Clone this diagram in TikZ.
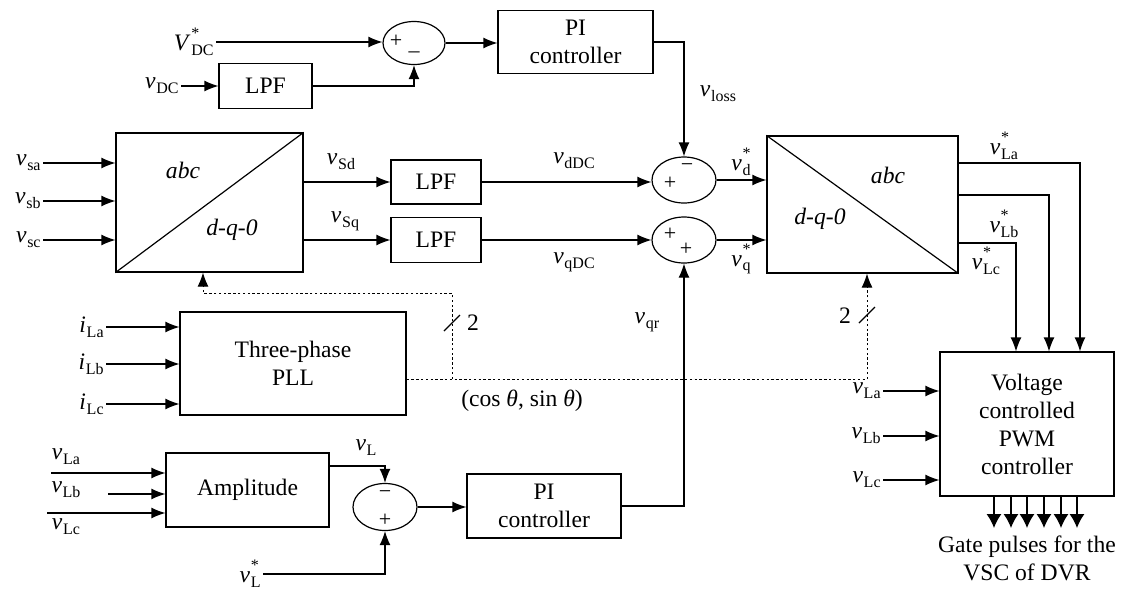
\documentclass[tikz,border=0pt]{standalone}
\usepackage{fontspec}
\setmainfont{Liberation Serif}
\usetikzlibrary{arrows.meta,shapes.geometric}
\newcommand{\sv}[2]{\textit{#1}\kern0.03em\raisebox{-0.45ex}{\footnotesize #2}}
\newcommand{\ssv}[2]{\textit{#1}\kern0.03em\rlap{\raisebox{1.1ex}{\footnotesize *}}\raisebox{-0.45ex}{\footnotesize #2}}
\begin{document}
\begin{tikzpicture}[x=0.5pt,y=-0.5pt,
  every node/.style={font=\fontsize{11.8}{14}\selectfont},
  blk/.style={draw, line width=0.6pt, inner sep=0pt, align=center},
  sumj/.style={draw, ellipse, line width=0.6pt, inner sep=0pt, minimum width=32pt, minimum height=23pt},
  arr/.style={line width=0.6pt, -{Latex[length=7pt,width=5.5pt]}},
  garr/.style={line width=0.6pt, -{Latex[length=7pt,width=7.5pt]}},
  ln/.style={line width=0.6pt},
  dl/.style={line width=0.5pt, dash pattern=on 1.2pt off 1.2pt},
  dlarr/.style={dl, -{Latex[length=7pt,width=5.5pt]}},
  lbl/.style={inner sep=1pt},
  sg/.style={inner sep=0pt, font=\fontsize{11}{12}\selectfont}
]
\useasboundingbox (0,0) rectangle (1121,590);
\fill[white] (0,0) rectangle (1121,590);

% ---------- top DC loop ----------
\node[lbl, anchor=east] (Vdcs) at (216,42) {\ssv{V}{DC}};
\node[sumj, minimum width=31pt, minimum height=21.5pt] (S1) at (414,43) {};
\node[sg] (s1p) at (396,41) {+};
\node[sg] (s1m) at (414,55) {–};
\node[blk, minimum width=46.5pt, minimum height=22.5pt] (LPF1) at (265.5,86) {LPF};
\node[lbl, anchor=east] (vdc) at (181,86) {\sv{v}{DC}};
\node[blk, minimum width=77.5pt, minimum height=31.5pt] (PI1) at (575.5,42) {PI\\controller};
\draw[arr] (Vdcs.east) -- (Vdcs.east -| S1.west);
\draw[arr] (vdc.east) -- (LPF1.west);
\draw[arr] (LPF1.east) -| (S1.south);
\draw[arr] (S1.east) -- (S1.east -| PI1.west);

% ---------- abc -> dq0 ----------
\node[blk, minimum width=93.5pt, minimum height=69.5pt] (ABC1) at (209.5,202.5) {};
\draw[ln] (ABC1.south west) -- (ABC1.north east);
\node (abc1) at (183,170) {\textit{abc}};
\node (dq1) at (232,230) {\textit{d-q-0}};
\node[lbl, anchor=east] (vsa) at (43,163) {\sv{v}{sa}};
\node[lbl, anchor=east] (vsb) at (43,201) {\sv{v}{sb}};
\node[lbl, anchor=east] (vsc) at (43,240) {\sv{v}{sc}};
\draw[arr] (vsa.east) -- (vsa.east -| ABC1.west);
\draw[arr] (vsb.east) -- (vsb.east -| ABC1.west);
\draw[arr] (vsc.east) -- (vsc.east -| ABC1.west);

\node[blk, minimum width=45pt, minimum height=22pt] (LPF2) at (436,182) {LPF};
\node[blk, minimum width=45pt, minimum height=22.5pt] (LPF3) at (436,240) {LPF};
\draw[arr] (ABC1.east |- LPF2.west) -- (LPF2.west);
\draw[arr] (ABC1.east |- LPF3.west) -- (LPF3.west);
\node (vSd) at (341,162) {\sv{v}{Sd}};
\node (vSq) at (345,221) {\sv{v}{Sq}};

\node[sumj] (S2) at (684,180) {};
\node[sumj] (S3) at (684,240) {};
\node[sg] (s2p) at (670,183) {+};
\node[sg] (s2m) at (687,168) {−};
\node[sg] (s3p1) at (670,234) {+};
\node[sg] (s3p2) at (686,249) {+};
\draw[arr] (LPF2.east) -- (LPF2.east -| S2.west);
\draw[arr] (LPF3.east) -- (LPF3.east -| S3.west);
\node (vdDC) at (574,161) {\sv{v}{dDC}};
\node (vqDC) at (574,262) {\sv{v}{qDC}};
\draw[arr] (PI1.east) -| (S2.north);
\node (vloss) at (718,94) {\sv{v}{loss}};

% ---------- dq0 -> abc ----------
\node[blk, minimum width=95.5pt, minimum height=68.5pt] (ABC2) at (862.5,204.5) {};
\draw[ln] (ABC2.north west) -- (ABC2.south east);
\node (abc2) at (888,175) {\textit{abc}};
\node (dq2) at (820,219) {\textit{d-q-0}};
\draw[arr] (S2.east) -- (S2.east -| ABC2.west);
\draw[arr] (S3.east) -- (S3.east -| ABC2.west);
\node (vds) at (741,162) {\ssv{v}{d}};
\node (vqs) at (741,259) {\ssv{v}{q}};

% ---------- PWM ----------
\node[blk, minimum width=87pt, minimum height=72pt] (PWM) at (1027,424) {Voltage\\controlled\\PWM\\controller};
\coordinate (oa) at (1080,163);
\coordinate (ob) at (1049,195);
\coordinate (oc) at (1016,243);
\draw[arr] (ABC2.east |- oa) -| (PWM.north -| oa);
\draw[arr] (ABC2.east |- ob) -| (PWM.north -| ob);
\draw[arr] (ABC2.east |- oc) -| (PWM.north -| oc);
\node (vLas) at (1004,146) {\ssv{v}{La}};
\node (vLbs) at (1004,224) {\ssv{v}{Lb}};
\node (vLcs) at (986,261) {\ssv{v}{Lc}};
\node[lbl, anchor=east] (pLa) at (883,391) {\sv{v}{La}};
\node[lbl, anchor=east] (pLb) at (883,436) {\sv{v}{Lb}};
\node[lbl, anchor=east] (pLc) at (883,480) {\sv{v}{Lc}};
\draw[arr] (pLa.east) -- (pLa.east -| PWM.west);
\draw[arr] (pLb.east) -- (pLb.east -| PWM.west);
\draw[arr] (pLc.east) -- (pLc.east -| PWM.west);
\foreach \i/\x in {1/994,2/1011,3/1027,4/1044,5/1061,6/1077}{
  \coordinate (g\i) at (\x,528);
  \draw[garr] (PWM.south -| g\i) -- (g\i);
}
\node[align=center, inner sep=0pt] (gate) at (1027,558) {Gate pulses for the\\VSC of DVR};

% ---------- PLL ----------
\node[blk, minimum width=113pt, minimum height=51.5pt] (PLL) at (293,363.5) {Three-phase\\PLL};
\node[lbl, anchor=east] (iLa) at (106,327) {\sv{i}{La}};
\node[lbl, anchor=east] (iLb) at (106,364) {\sv{i}{Lb}};
\node[lbl, anchor=east] (iLc) at (106,404) {\sv{i}{Lc}};
\draw[arr] (iLa.east) -- (iLa.east -| PLL.west);
\draw[arr] (iLb.east) -- (iLb.east -| PLL.west);
\draw[arr] (iLc.east) -- (iLc.east -| PLL.west);
\coordinate (j1) at (452,379);
\coordinate (j2) at (867,379);
\coordinate (k1) at (203,293);
\draw[dl] (PLL.east |- j1) -- (j2);
\draw[dlarr] (j1) |- (k1) -- (ABC1.south -| k1);
\draw[dlarr] (j2) -- (ABC2.south -| j2);
\draw[ln] (444,331) -- (460,315);
\node (two1) at (473,323) {2};
\draw[ln] (859,323) -- (875,307);
\node (two2) at (845,316) {2};
\node (cs) at (522,401) {(cos \textit{θ}, sin \textit{θ})};

% ---------- amplitude loop ----------
\node[blk, minimum width=81.5pt, minimum height=37pt] (AMP) at (247.5,490) {Amplitude};
\coordinate (a1) at (51,473);
\coordinate (a2) at (108,494);
\coordinate (a3) at (47,513);
\draw[arr] (a1) -- (a1 -| AMP.west);
\draw[arr] (a2) -- (a2 -| AMP.west);
\draw[arr] (a3) -- (a3 -| AMP.west);
\node (aLa) at (66,457) {\sv{v}{La}};
\node (aLb) at (66,490) {\sv{v}{Lb}};
\node (aLc) at (66,527) {\sv{v}{Lc}};
\node[sumj, minimum width=32pt, minimum height=23.5pt] (S4) at (385,507) {};
\node[sg] (s4m) at (385,495) {−};
\node[sg] (s4p) at (385,520) {+};
\draw[arr] ([yshift=12pt]AMP.east) -| (S4.north);
\node (vL) at (366,448) {\sv{v}{L}};
\node[lbl, anchor=east] (vLst) at (263,574) {\ssv{v}{L}};
\draw[arr] (vLst.east) -| (S4.south);
\node[blk, minimum width=77pt, minimum height=32pt] (PI2) at (544,506) {PI\\controller};
\draw[arr] (S4.east) -- (S4.east -| PI2.west);
\draw[arr] (PI2.east) -| (S3.south);
\node (vqr) at (647,322) {\sv{v}{qr}};
\end{tikzpicture}
\end{document}
